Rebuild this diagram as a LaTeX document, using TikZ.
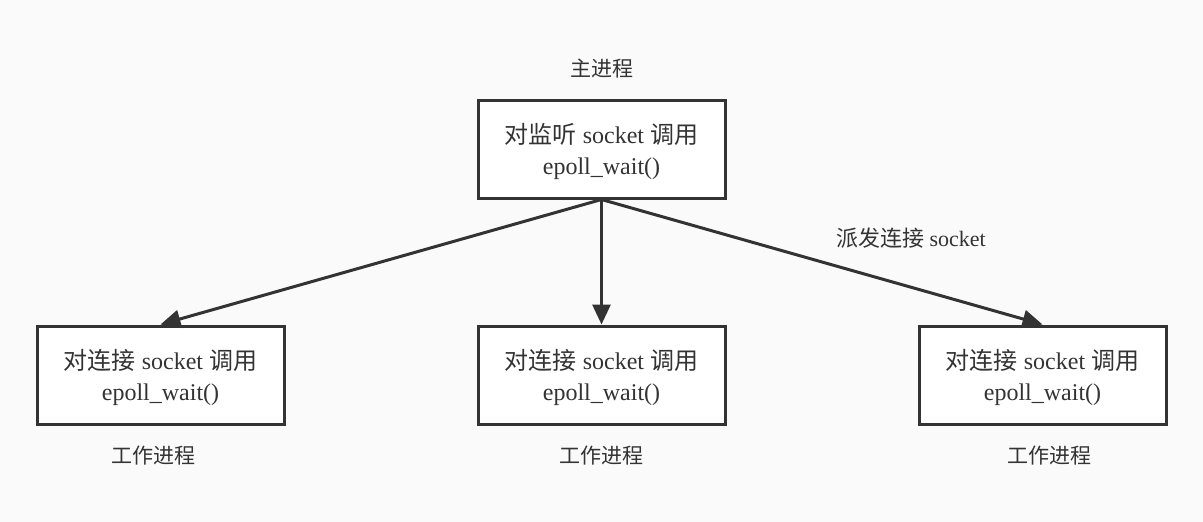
\documentclass[tikz,border=0pt]{standalone}
\usepackage{fontspec}
\setmainfont{Liberation Serif}
\newfontfamily\cjk{Noto Sans CJK SC}
\usetikzlibrary{arrows.meta}
\definecolor{bg}{HTML}{FAFAFA}
\definecolor{ink}{HTML}{333333}
\begin{document}
\begin{tikzpicture}[x=1pt,y=-1pt,
  proc/.style={draw=ink,fill=white,line width=3pt,minimum width=247pt,minimum height=98pt,inner sep=0pt},
  ptext/.style={align=center,font=\fontsize{24}{31}\selectfont,text=ink,inner sep=0pt},
  lbl/.style={font=\fontsize{21}{26}\selectfont\cjk,text=ink,inner sep=0pt},
  conn/.style={draw=ink,line width=3pt,-{Triangle[length=20pt,width=18pt]}}]
\fill[bg] (0,0) rectangle (1203,522);
\useasboundingbox (0,0) rectangle (1203,522);
\node[proc] (m) at (601.5,149) {};
\node[proc] (w1) at (160.5,375) {};
\node[proc] (w2) at (601.5,375) {};
\node[proc] (w3) at (1042.5,375) {};
\node[ptext] (tm) at (601.5,151.5) {{\cjk 对监听} socket {\cjk 调用}\\epoll\_wait()};
\node[ptext] (t1) at (160.5,377.5) {{\cjk 对连接} socket {\cjk 调用}\\epoll\_wait()};
\node[ptext] (t2) at (601.5,377.5) {{\cjk 对连接} socket {\cjk 调用}\\epoll\_wait()};
\node[ptext] (t3) at (1042.5,377.5) {{\cjk 对连接} socket {\cjk 调用}\\epoll\_wait()};
\node[lbl] (lm) at (601.5,69) {主进程};
\node[lbl] (l1) at (153,456) {工作进程};
\node[lbl] (l2) at (601.5,456) {工作进程};
\node[lbl] (l3) at (1049,456) {工作进程};
\draw[conn] (m.south) -- (w1.north);
\draw[conn] (m.south) -- (w2.north);
\draw[conn] (m.south) -- (w3.north);
\node[text=ink,inner sep=0pt,font=\fontsize{22}{26}\selectfont] (d) at (911,238) {{\cjk 派发连接} socket};
\end{tikzpicture}
\end{document}
